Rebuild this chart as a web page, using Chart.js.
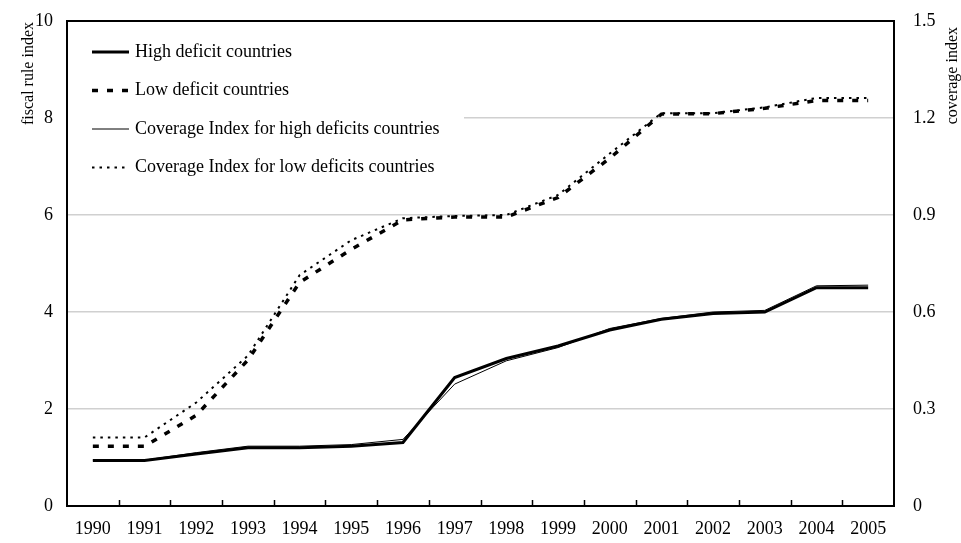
<!DOCTYPE html>
<html>
<head>
<meta charset="utf-8">
<script src="https://cdn.jsdelivr.net/npm/chart.js@4.4.1/dist/chart.umd.min.js"></script>
<style>
    html, body { margin: 0; padding: 0; background: #fff; }
    #wrap { width: 961px; height: 543px; position: relative; }
</style>
</head>
<body>
<div id="wrap"><canvas id="grafico"></canvas></div>
<script>
// datos
const years = ["1990", "1991", "1992", "1993", "1994", "1995", "1996", "1997",
               "1998", "1999", "2000", "2001", "2002", "2003", "2004", "2005"];
const highDeficit = [0.94, 0.94, 1.07, 1.20, 1.20, 1.23, 1.31, 2.65, 3.04, 3.30, 3.63, 3.85, 3.97, 4.00, 4.50, 4.50];
const lowDeficit = [1.23, 1.23, 1.87, 3.01, 4.61, 5.29, 5.90, 5.96, 5.96, 6.36, 7.17, 8.08, 8.09, 8.20, 8.36, 8.36];
const coverageHigh = [0.142, 0.142, 0.165, 0.185, 0.185, 0.190, 0.206, 0.377, 0.449, 0.490, 0.549, 0.580, 0.600, 0.605, 0.681, 0.683];
const coverageLow = [0.212, 0.212, 0.320, 0.465, 0.714, 0.822, 0.890, 0.897, 0.900, 0.962, 1.090, 1.215, 1.215, 1.233, 1.262, 1.262];
const leftTitle = "fiscal rule index";
const rightTitle = "coverage index";

const FONT = "'Liberation Serif', 'Times New Roman', serif";

const series = [
    { label: "High deficit countries", data: highDeficit, axis: "y", width: 3, dash: [] },
    { label: "Low deficit countries", data: lowDeficit, axis: "y", width: 3.5, dash: [6, 9] },
    { label: "Coverage Index for high deficits countries", data: coverageHigh, axis: "y1", width: 1, dash: [] },
    { label: "Coverage Index for low deficits countries", data: coverageLow, axis: "y1", width: 2, dash: [2.5, 5] }
];

// ancho fijo de los ejes verticales, sin relleno extra arriba/abajo
function fijarEje(s) {
    s.width = 67;
    s.paddingTop = 0;
    s.paddingBottom = 0;
}

// marco, marcas interiores, leyenda y titulos de ejes
const decoraciones = {
    id: "decoraciones",
    beforeDatasetsDraw(chart) {
        const { ctx, chartArea } = chart;
        ctx.save();
        ctx.fillStyle = "#fff";
        ctx.fillRect(chartArea.left + 1, chartArea.top + 1, 463 - chartArea.left, 195 - chartArea.top);
        ctx.restore();
    },
    afterDraw(chart) {
        const { ctx, chartArea } = chart;
        const x = chart.scales.x;
        ctx.save();

        // marco
        ctx.strokeStyle = "#000";
        ctx.lineWidth = 2;
        ctx.strokeRect(chartArea.left, chartArea.top, chartArea.right - chartArea.left, chartArea.bottom - chartArea.top);

        // marcas entre categorias
        ctx.lineWidth = 1.5;
        const paso = x.getPixelForValue(1) - x.getPixelForValue(0);
        for (let i = 1; i < years.length; i++) {
            const px = Math.round(x.getPixelForValue(i) - paso / 2) + 0.5;
            ctx.beginPath();
            ctx.moveTo(px, chartArea.bottom);
            ctx.lineTo(px, chartArea.bottom - 6);
            ctx.stroke();
        }

        // leyenda
        ctx.font = "18px " + FONT;
        ctx.fillStyle = "#000";
        ctx.textBaseline = "middle";
        series.forEach((s, i) => {
            const y = 52 + i * 38.5;
            ctx.beginPath();
            ctx.lineWidth = s.width;
            ctx.setLineDash(s.dash);
            ctx.moveTo(92, y);
            ctx.lineTo(129, y);
            ctx.stroke();
            ctx.setLineDash([]);
            ctx.fillText(s.label, 135, y);
        });

        // titulos de ejes
        ctx.font = "16px " + FONT;
        ctx.textAlign = "right";
        ctx.save();
        ctx.translate(29, 22);
        ctx.rotate(-Math.PI / 2);
        ctx.fillText(leftTitle, 0, 0);
        ctx.restore();
        ctx.save();
        ctx.translate(953, 27);
        ctx.rotate(-Math.PI / 2);
        ctx.fillText(rightTitle, 0, 0);
        ctx.restore();

        ctx.restore();
    }
};

const canvas = document.getElementById("grafico");

new Chart(canvas, {
    type: "line",
    data: {
        labels: years,
        datasets: series.map(s => ({
            label: s.label,
            data: s.data,
            yAxisID: s.axis,
            borderColor: "#000",
            borderWidth: s.width,
            borderDash: s.dash,
            pointRadius: 0,
            fill: false,
            tension: 0
        }))
    },
    options: {
        responsive: true,
        maintainAspectRatio: false,
        animation: false,
        devicePixelRatio: 1,
        layout: { padding: { top: 21, left: 0, right: 0, bottom: 0 } },
        plugins: {
            legend: { display: false },
            tooltip: { enabled: false }
        },
        scales: {
            x: {
                offset: true,
                grid: { display: false, drawTicks: false },
                border: { display: false },
                ticks: { color: "#000", font: { family: FONT, size: 18 }, padding: 12, maxRotation: 0, autoSkip: false },
                afterFit: s => { s.height = 37; }
            },
            y: {
                position: "left",
                min: 0,
                max: 10,
                grid: {
                    drawTicks: false,
                    lineWidth: 1.5,
                    color: c => (c.tick.value === 0 || c.tick.value === 10) ? "rgba(0,0,0,0)" : "#d0d0d0"
                },
                border: { display: false },
                ticks: { stepSize: 2, color: "#000", font: { family: FONT, size: 18 }, padding: 14 },
                afterFit: fijarEje
            },
            y1: {
                position: "right",
                min: 0,
                max: 1.5,
                grid: { display: false, drawTicks: false },
                border: { display: false },
                ticks: {
                    stepSize: 0.3,
                    color: "#000",
                    font: { family: FONT, size: 18 },
                    padding: 19,
                    callback: v => String(+v.toFixed(1))
                },
                afterFit: fijarEje
            }
        }
    },
    plugins: [decoraciones]
});
</script>
</body>
</html>
